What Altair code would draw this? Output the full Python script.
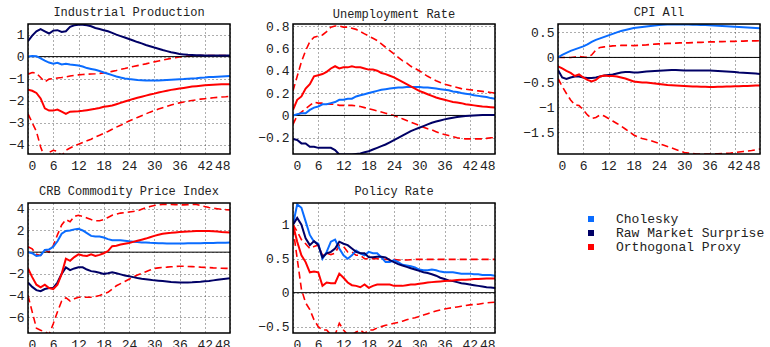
import altair as alt
import pandas as pd

# Horizons (months after the shock)
horizons = list(range(49))
series_names = ["Cholesky", "Raw Market Surprise", "Orthogonal Proxy"]
series_colors = ["#0a6cff", "#000066", "#ff0000"]

# ---- Industrial Production ----
ip_chol = [0.00, 0.03, 0.02, -0.08, -0.18, -0.27, -0.32, -0.28, -0.36, -0.33, -0.36, -0.38, -0.40, -0.45, -0.52, -0.56, -0.60, -0.65, -0.72, -0.78, -0.84, -0.90, -0.95, -0.99, -1.02, -1.04, -1.06, -1.07, -1.08, -1.08, -1.08, -1.08, -1.07, -1.06, -1.05, -1.04, -1.03, -1.02, -1.00, -0.99, -0.98, -0.96, -0.95, -0.93, -0.92, -0.91, -0.90, -0.89, -0.88]
ip_raw = [0.70, 0.95, 1.15, 1.25, 1.15, 1.05, 1.18, 1.20, 1.12, 1.15, 1.35, 1.42, 1.45, 1.45, 1.42, 1.38, 1.30, 1.25, 1.20, 1.15, 1.08, 1.00, 0.93, 0.87, 0.80, 0.73, 0.66, 0.60, 0.53, 0.47, 0.41, 0.36, 0.30, 0.25, 0.20, 0.16, 0.12, 0.10, 0.08, 0.07, 0.06, 0.06, 0.05, 0.05, 0.05, 0.05, 0.05, 0.05, 0.05]
ip_orth = [-1.50, -1.55, -1.65, -1.90, -2.35, -2.45, -2.45, -2.40, -2.50, -2.60, -2.50, -2.49, -2.48, -2.46, -2.43, -2.40, -2.37, -2.33, -2.28, -2.25, -2.22, -2.16, -2.10, -2.04, -1.98, -1.92, -1.87, -1.82, -1.77, -1.72, -1.68, -1.63, -1.59, -1.55, -1.51, -1.48, -1.45, -1.42, -1.39, -1.36, -1.34, -1.32, -1.30, -1.29, -1.28, -1.27, -1.26, -1.25, -1.25]
ip_hi = [-0.80, -0.72, -0.75, -0.95, -1.15, -1.02, -1.00, -0.97, -0.95, -0.92, -0.88, -0.85, -0.83, -0.81, -0.80, -0.79, -0.78, -0.76, -0.74, -0.71, -0.67, -0.63, -0.58, -0.54, -0.49, -0.45, -0.41, -0.37, -0.33, -0.28, -0.24, -0.20, -0.16, -0.12, -0.08, -0.05, -0.02, 0.00, 0.02, 0.03, 0.04, 0.05, 0.05, 0.05, 0.05, 0.05, 0.05, 0.05, 0.05]
ip_lo = [-2.60, -3.00, -3.40, -4.10, -4.60, -4.35, -4.25, -4.30, -4.50, -4.25, -4.15, -4.05, -3.98, -3.90, -3.82, -3.75, -3.65, -3.57, -3.48, -3.40, -3.30, -3.20, -3.12, -3.02, -2.92, -2.84, -2.76, -2.68, -2.60, -2.52, -2.45, -2.38, -2.32, -2.26, -2.20, -2.15, -2.10, -2.06, -2.02, -1.99, -1.96, -1.93, -1.91, -1.89, -1.87, -1.85, -1.83, -1.82, -1.80]

# ---- Unemployment Rate ----
ur_chol = [0.00, 0.01, 0.02, 0.02, 0.05, 0.07, 0.08, 0.10, 0.10, 0.11, 0.12, 0.14, 0.14, 0.15, 0.15, 0.17, 0.18, 0.19, 0.20, 0.21, 0.22, 0.23, 0.235, 0.24, 0.245, 0.25, 0.25, 0.255, 0.255, 0.255, 0.255, 0.25, 0.25, 0.245, 0.24, 0.235, 0.23, 0.225, 0.215, 0.21, 0.20, 0.195, 0.19, 0.18, 0.175, 0.17, 0.165, 0.155, 0.15]
ur_raw = [-0.21, -0.22, -0.25, -0.25, -0.28, -0.28, -0.29, -0.29, -0.29, -0.29, -0.31, -0.35, -0.35, -0.35, -0.35, -0.345, -0.34, -0.33, -0.32, -0.305, -0.29, -0.275, -0.26, -0.24, -0.22, -0.20, -0.18, -0.16, -0.14, -0.125, -0.11, -0.095, -0.08, -0.065, -0.055, -0.045, -0.035, -0.027, -0.02, -0.014, -0.009, -0.005, -0.002, 0.0, 0.002, 0.003, 0.004, 0.005, 0.005]
ur_orth = [0.05, 0.14, 0.17, 0.24, 0.28, 0.35, 0.36, 0.37, 0.39, 0.42, 0.44, 0.42, 0.43, 0.43, 0.44, 0.43, 0.43, 0.42, 0.41, 0.41, 0.40, 0.38, 0.37, 0.355, 0.34, 0.32, 0.30, 0.28, 0.26, 0.24, 0.22, 0.205, 0.19, 0.175, 0.16, 0.15, 0.14, 0.13, 0.12, 0.115, 0.11, 0.10, 0.095, 0.09, 0.085, 0.08, 0.077, 0.074, 0.07]
ur_hi = [0.22, 0.35, 0.48, 0.58, 0.66, 0.70, 0.71, 0.72, 0.75, 0.79, 0.80, 0.80, 0.79, 0.79, 0.78, 0.77, 0.75, 0.73, 0.71, 0.69, 0.67, 0.64, 0.61, 0.58, 0.55, 0.52, 0.49, 0.47, 0.44, 0.42, 0.40, 0.375, 0.35, 0.33, 0.31, 0.295, 0.28, 0.27, 0.26, 0.25, 0.24, 0.235, 0.23, 0.225, 0.22, 0.215, 0.21, 0.205, 0.20]
ur_lo = [-0.08, 0.00, 0.03, 0.06, 0.09, 0.12, 0.11, 0.11, 0.10, 0.10, 0.10, 0.09, 0.09, 0.09, 0.09, 0.085, 0.08, 0.07, 0.06, 0.05, 0.04, 0.03, 0.02, 0.01, 0.00, -0.015, -0.03, -0.045, -0.06, -0.075, -0.09, -0.105, -0.12, -0.13, -0.145, -0.16, -0.17, -0.18, -0.19, -0.20, -0.205, -0.21, -0.21, -0.21, -0.21, -0.21, -0.205, -0.20, -0.20]

# ---- CPI All ----
cpi_chol = [0.00, 0.05, 0.09, 0.13, 0.16, 0.19, 0.22, 0.26, 0.31, 0.35, 0.38, 0.41, 0.44, 0.47, 0.50, 0.53, 0.55, 0.57, 0.59, 0.60, 0.61, 0.62, 0.63, 0.64, 0.65, 0.655, 0.66, 0.66, 0.66, 0.66, 0.66, 0.66, 0.655, 0.655, 0.65, 0.65, 0.645, 0.64, 0.635, 0.63, 0.625, 0.62, 0.615, 0.61, 0.605, 0.60, 0.595, 0.59, 0.585]
cpi_raw = [-0.25, -0.40, -0.43, -0.40, -0.38, -0.38, -0.40, -0.41, -0.41, -0.40, -0.38, -0.36, -0.35, -0.34, -0.32, -0.30, -0.29, -0.29, -0.30, -0.30, -0.29, -0.28, -0.275, -0.27, -0.265, -0.26, -0.255, -0.25, -0.25, -0.255, -0.26, -0.26, -0.26, -0.26, -0.26, -0.26, -0.26, -0.265, -0.27, -0.275, -0.28, -0.285, -0.29, -0.30, -0.305, -0.31, -0.315, -0.32, -0.33]
cpi_orth = [-0.18, -0.22, -0.27, -0.31, -0.37, -0.34, -0.40, -0.45, -0.48, -0.45, -0.38, -0.36, -0.37, -0.37, -0.38, -0.40, -0.42, -0.45, -0.48, -0.49, -0.50, -0.50, -0.51, -0.52, -0.53, -0.54, -0.55, -0.555, -0.56, -0.565, -0.57, -0.575, -0.58, -0.58, -0.585, -0.585, -0.59, -0.59, -0.585, -0.585, -0.58, -0.58, -0.575, -0.575, -0.57, -0.57, -0.565, -0.56, -0.56]
cpi_hi = [0.00, 0.00, 0.00, 0.00, 0.01, 0.02, 0.01, 0.00, 0.05, 0.15, 0.20, 0.21, 0.22, 0.23, 0.235, 0.24, 0.24, 0.24, 0.235, 0.24, 0.245, 0.25, 0.26, 0.265, 0.27, 0.275, 0.28, 0.28, 0.285, 0.29, 0.29, 0.29, 0.295, 0.30, 0.30, 0.305, 0.31, 0.31, 0.315, 0.315, 0.32, 0.32, 0.32, 0.325, 0.325, 0.33, 0.33, 0.33, 0.335]
cpi_lo = [-0.42, -0.58, -0.72, -0.85, -0.95, -0.96, -1.05, -1.15, -1.22, -1.20, -1.15, -1.17, -1.22, -1.27, -1.32, -1.37, -1.43, -1.49, -1.55, -1.59, -1.62, -1.64, -1.66, -1.69, -1.72, -1.75, -1.78, -1.81, -1.84, -1.87, -1.90, -1.91, -1.92, -1.93, -1.93, -1.93, -1.93, -1.93, -1.925, -1.92, -1.915, -1.91, -1.90, -1.89, -1.88, -1.87, -1.86, -1.845, -1.83]

# ---- CRB Commodity Price Index ----
crb_chol = [0.00, -0.10, -0.35, -0.30, 0.20, 0.25, 0.50, 1.00, 1.70, 1.95, 2.00, 2.10, 2.15, 2.00, 1.75, 1.50, 1.45, 1.45, 1.35, 1.20, 1.10, 1.10, 1.10, 1.05, 1.00, 0.97, 0.93, 0.90, 0.88, 0.86, 0.85, 0.83, 0.82, 0.80, 0.80, 0.80, 0.80, 0.80, 0.81, 0.81, 0.82, 0.83, 0.84, 0.84, 0.85, 0.86, 0.87, 0.87, 0.88]
crb_raw = [-2.80, -3.20, -3.50, -3.60, -3.40, -3.30, -3.30, -2.80, -2.00, -1.40, -1.65, -1.50, -1.40, -1.40, -1.60, -1.75, -1.80, -1.90, -2.00, -1.95, -1.85, -1.95, -2.05, -2.15, -2.22, -2.30, -2.38, -2.45, -2.50, -2.55, -2.60, -2.63, -2.66, -2.70, -2.74, -2.77, -2.80, -2.80, -2.80, -2.78, -2.75, -2.72, -2.68, -2.65, -2.60, -2.55, -2.50, -2.45, -2.40]
crb_orth = [-1.50, -2.30, -3.00, -3.25, -3.00, -3.30, -3.40, -3.00, -2.00, -0.60, -0.80, -0.45, -0.20, -0.30, -0.35, -0.20, -0.35, -0.25, -0.10, 0.10, 0.55, 0.60, 0.70, 0.78, 0.85, 0.95, 1.05, 1.15, 1.25, 1.38, 1.50, 1.60, 1.70, 1.75, 1.78, 1.82, 1.86, 1.88, 1.90, 1.92, 1.95, 1.95, 1.95, 1.94, 1.92, 1.90, 1.86, 1.83, 1.80]
crb_hi = [0.50, 0.30, -0.20, -0.30, 0.20, 0.00, 0.60, 1.60, 2.50, 3.00, 2.80, 3.30, 3.40, 3.30, 3.15, 3.00, 2.90, 2.90, 3.00, 3.20, 3.40, 3.50, 3.60, 3.65, 3.70, 3.75, 3.80, 3.95, 4.10, 4.20, 4.30, 4.35, 4.40, 4.40, 4.40, 4.38, 4.35, 4.36, 4.38, 4.40, 4.40, 4.30, 4.20, 4.12, 4.05, 4.00, 3.95, 3.92, 3.90]
crb_lo = [-4.00, -5.50, -7.00, -7.20, -7.30, -7.60, -6.60, -5.50, -4.50, -4.20, -4.50, -4.30, -4.15, -4.15, -4.15, -4.15, -4.10, -4.00, -3.85, -3.70, -3.40, -3.10, -2.90, -2.70, -2.50, -2.30, -2.10, -1.95, -1.80, -1.65, -1.50, -1.45, -1.40, -1.38, -1.35, -1.32, -1.30, -1.30, -1.32, -1.33, -1.35, -1.38, -1.40, -1.42, -1.45, -1.47, -1.48, -1.49, -1.50]

# ---- Policy Rate ----
pr_chol = [1.00, 1.30, 1.25, 1.05, 0.85, 0.75, 0.72, 0.50, 0.60, 0.75, 0.78, 0.65, 0.55, 0.50, 0.55, 0.62, 0.58, 0.55, 0.60, 0.58, 0.58, 0.52, 0.45, 0.45, 0.48, 0.45, 0.41, 0.40, 0.39, 0.37, 0.34, 0.33, 0.33, 0.34, 0.33, 0.31, 0.30, 0.30, 0.30, 0.29, 0.28, 0.28, 0.28, 0.27, 0.27, 0.26, 0.26, 0.26, 0.25]
pr_raw = [1.00, 1.10, 1.00, 0.80, 0.70, 0.76, 0.70, 0.52, 0.58, 0.60, 0.65, 0.75, 0.72, 0.70, 0.65, 0.60, 0.58, 0.58, 0.52, 0.52, 0.53, 0.53, 0.52, 0.48, 0.45, 0.42, 0.40, 0.38, 0.36, 0.34, 0.32, 0.30, 0.29, 0.27, 0.25, 0.22, 0.20, 0.18, 0.17, 0.155, 0.14, 0.13, 0.12, 0.11, 0.10, 0.09, 0.08, 0.075, 0.07]
pr_orth = [1.00, 0.75, 0.55, 0.45, 0.30, 0.31, 0.30, 0.10, 0.15, 0.14, 0.14, 0.28, 0.22, 0.15, 0.11, 0.10, 0.08, 0.12, 0.07, 0.10, 0.12, 0.12, 0.12, 0.12, 0.10, 0.10, 0.10, 0.11, 0.12, 0.12, 0.13, 0.14, 0.15, 0.155, 0.16, 0.165, 0.17, 0.175, 0.18, 0.185, 0.19, 0.19, 0.195, 0.20, 0.20, 0.205, 0.21, 0.21, 0.21]
pr_hi = [1.00, 0.90, 0.78, 0.72, 0.65, 0.68, 0.70, 0.55, 0.58, 0.56, 0.58, 0.70, 0.68, 0.60, 0.60, 0.55, 0.55, 0.50, 0.50, 0.50, 0.50, 0.50, 0.49, 0.49, 0.49, 0.48, 0.48, 0.48, 0.485, 0.49, 0.49, 0.49, 0.49, 0.49, 0.49, 0.49, 0.49, 0.49, 0.49, 0.49, 0.49, 0.49, 0.49, 0.49, 0.49, 0.49, 0.49, 0.49, 0.49]
pr_lo = [0.95, 0.50, 0.05, -0.15, -0.25, -0.40, -0.50, -0.55, -0.55, -0.62, -0.62, -0.45, -0.55, -0.62, -0.62, -0.58, -0.55, -0.60, -0.55, -0.55, -0.52, -0.50, -0.48, -0.47, -0.45, -0.44, -0.42, -0.40, -0.38, -0.37, -0.35, -0.33, -0.31, -0.29, -0.27, -0.255, -0.24, -0.23, -0.22, -0.21, -0.20, -0.19, -0.18, -0.175, -0.17, -0.16, -0.15, -0.145, -0.14]

FONT = "Liberation Mono"
PANEL_W, PANEL_H = 202, 130
series_scale = alt.Scale(domain=series_names, range=series_colors)


def panel_title(text, dy=0):
    return alt.TitleParams(text, font=FONT, fontSize=12, fontWeight="normal",
                           color="#222222", offset=4, dy=dy)


def panel(title, chol, raw, orth, hi, lo, y_domain, y_ticks, extent, title_dy=0):
    lines = pd.DataFrame({
        "h": horizons * 3,
        "value": chol + raw + orth,
        "series": ["Cholesky"] * 49 + ["Raw Market Surprise"] * 49 + ["Orthogonal Proxy"] * 49,
    })
    bands = pd.DataFrame({
        "h": horizons * 2,
        "value": hi + lo,
        "band": ["upper"] * 49 + ["lower"] * 49,
    })
    x = alt.X("h:Q", scale=alt.Scale(domain=[0, 48], nice=False, zero=False),
              axis=alt.Axis(values=list(range(0, 49, 6)), title=None, grid=True,
                            gridDash=[1, 3], gridColor="#333333", gridOpacity=0.8,
                            ticks=False, domain=False, labelFont=FONT, labelFontSize=13,
                            labelColor="#222222", labelPadding=5, labelOverlap=False))
    y = alt.Y("value:Q", scale=alt.Scale(domain=y_domain, nice=False, zero=False),
              axis=alt.Axis(values=y_ticks, format="~g", title=None, grid=True,
                            gridDash=[1, 3], gridColor="#333333", gridOpacity=0.8,
                            ticks=False, domain=False, labelFont=FONT, labelFontSize=13,
                            labelColor="#222222", labelPadding=4, labelOverlap=False,
                            minExtent=extent, maxExtent=extent))
    band_layer = alt.Chart(bands).mark_line(
        color="#ff0000", strokeDash=[7, 4], strokeWidth=1.6, clip=True
    ).encode(x=x, y=y, detail="band:N")
    # horizontal zero reference line
    zero = alt.Chart(pd.DataFrame({"value": [0]})).mark_rule(
        color="black", strokeWidth=1
    ).encode(y=y)
    # plot frame
    frame = alt.Chart(pd.DataFrame({"f": [0]})).mark_rect(
        fill=None, stroke="black", strokeWidth=1.5
    ).encode(x=alt.value(0), x2=alt.value(PANEL_W), y=alt.value(0), y2=alt.value(PANEL_H))
    line_layer = alt.Chart(lines).mark_line(strokeWidth=2, clip=True).encode(
        x=x, y=y,
        color=alt.Color("series:N", scale=series_scale, legend=None),
        order=alt.Order("h:Q"),
    )
    return alt.layer(band_layer, zero, line_layer, frame).properties(
        width=PANEL_W, height=PANEL_H, title=panel_title(title, title_dy),
    )


p_ip = panel("Industrial Production", ip_chol, ip_raw, ip_orth, ip_hi, ip_lo,
             [-4.42, 1.48], [-4, -3, -2, -1, 0, 1], 28)
# the top tick label (0.8) sits at the frame edge, so pull this title down to line up
p_ur = panel("Unemployment Rate", ur_chol, ur_raw, ur_orth, ur_hi, ur_lo,
             [-0.345, 0.818], [-0.2, 0, 0.2, 0.4, 0.6, 0.8], 36, title_dy=4.5)
p_cpi = panel("CPI All", cpi_chol, cpi_raw, cpi_orth, cpi_hi, cpi_lo,
              [-1.93, 0.668], [-1.5, -1, -0.5, 0, 0.5], 36)
p_crb = panel("CRB Commodity Price Index", crb_chol, crb_raw, crb_orth, crb_hi, crb_lo,
              [-7.45, 4.53], [-6, -4, -2, 0, 2, 4], 28)
p_pr = panel("Policy Rate", pr_chol, pr_raw, pr_orth, pr_hi, pr_lo,
             [-0.594, 1.32], [-0.5, 0, 0.5, 1], 36)

# Key: coloured squares with the series names, in the empty sixth cell
key_df = pd.DataFrame({"series": series_names})
key_y = alt.Y("series:N",
              scale=alt.Scale(type="point", domain=series_names, range=[16, 44], padding=0),
              axis=None)
key_squares = alt.Chart(key_df).mark_square(size=36, opacity=1).encode(
    x=alt.value(69), y=key_y,
    color=alt.Color("series:N", scale=series_scale, legend=None),
)
key_text = alt.Chart(key_df).mark_text(
    align="left", baseline="middle", font=FONT, fontSize=13, color="#222222"
).encode(x=alt.value(94), y=key_y, text="series:N")
key = alt.layer(key_squares, key_text).properties(
    width=236, height=PANEL_H, title=panel_title(" "),
)

row1 = alt.hconcat(p_ip, p_ur, p_cpi, spacing=26)
row2 = alt.hconcat(p_crb, p_pr, key, spacing=26)

chart = alt.vconcat(row1, row2, spacing=13, background="white").properties(
    padding={"left": 0, "top": 6, "right": 0, "bottom": 0}
).configure_view(strokeWidth=0)

chart.save("out.html", embed_options={"renderer": "svg", "actions": False})
